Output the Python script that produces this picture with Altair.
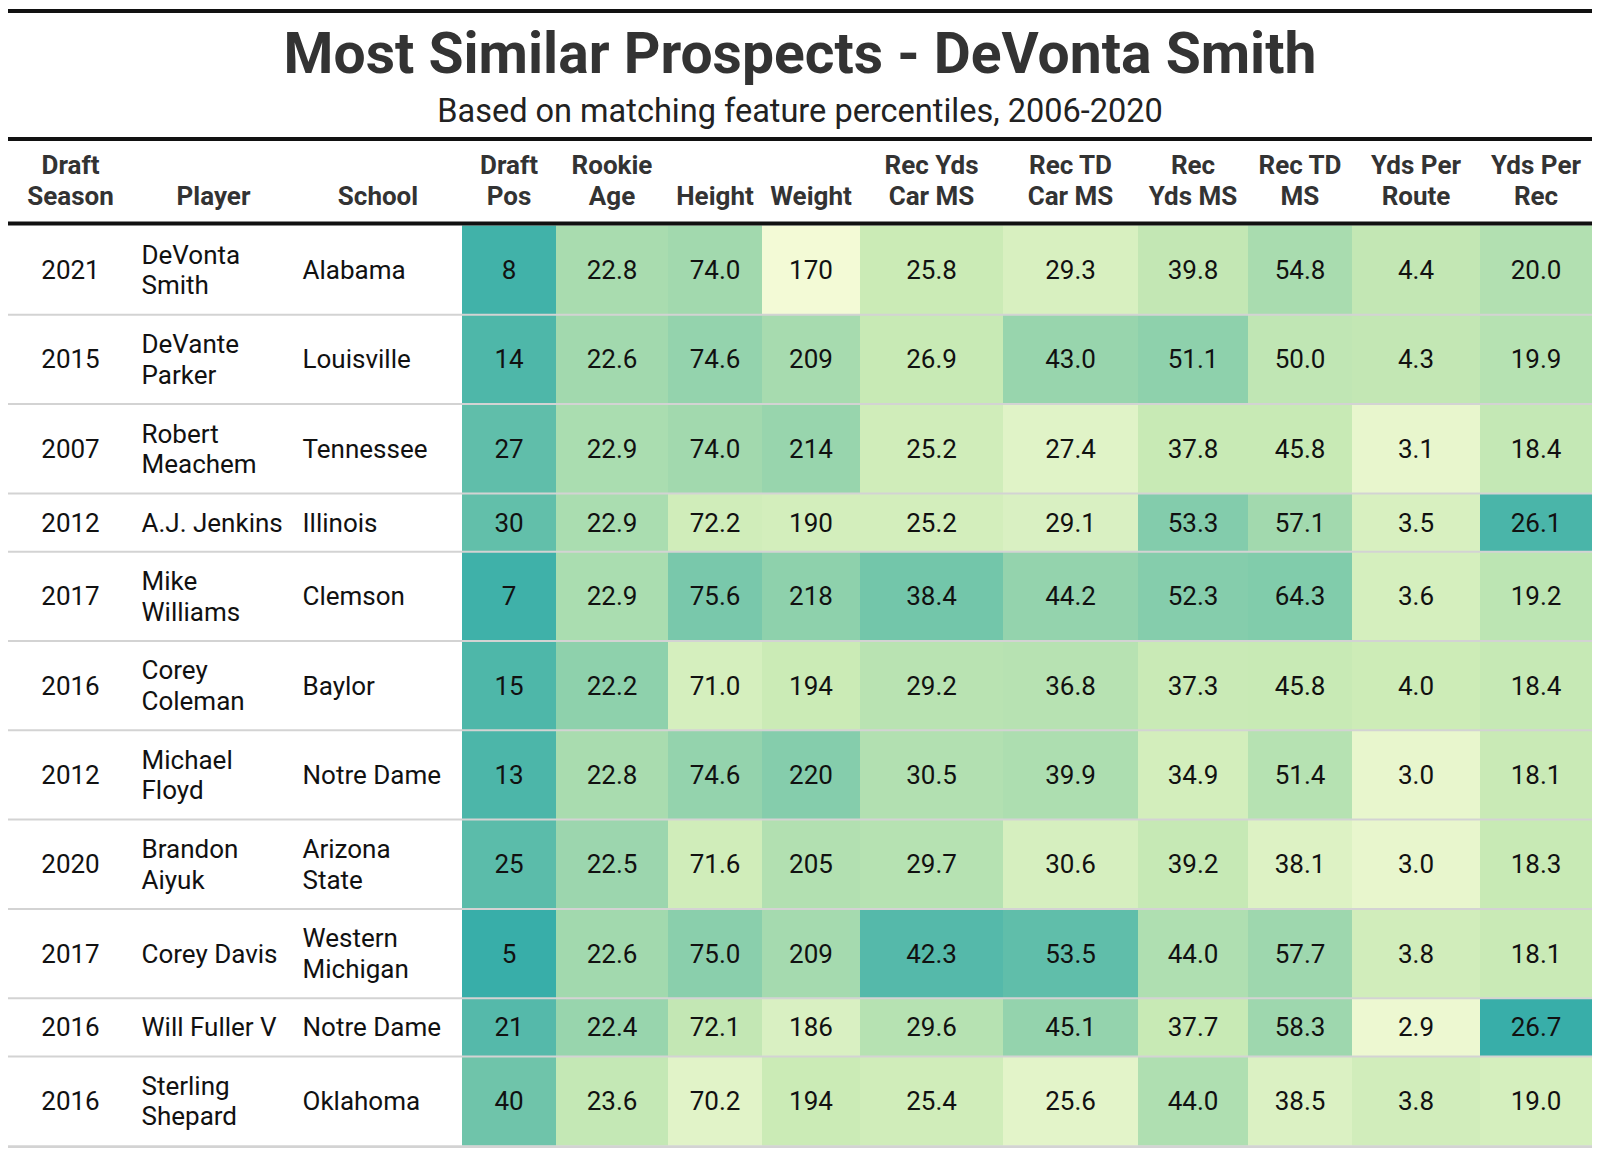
import altair as alt
import pandas as pd

# ---------------- data ----------------
title_text = "Most Similar Prospects - DeVonta Smith"
subtitle_text = "Based on matching feature percentiles, 2006-2020"

headers = ["Draft\nSeason", "Player", "School", "Draft\nPos", "Rookie\nAge", "Height",
           "Weight", "Rec Yds\nCar MS", "Rec TD\nCar MS", "Rec\nYds MS", "Rec TD\nMS",
           "Yds Per\nRoute", "Yds Per\nRec"]

seasons = [2021, 2015, 2007, 2012, 2017, 2016, 2012, 2020, 2017, 2016, 2016]
players = ["DeVonta\nSmith", "DeVante\nParker", "Robert\nMeachem", "A.J. Jenkins",
           "Mike\nWilliams", "Corey\nColeman", "Michael\nFloyd", "Brandon\nAiyuk",
           "Corey Davis", "Will Fuller V", "Sterling\nShepard"]
schools = ["Alabama", "Louisville", "Tennessee", "Illinois", "Clemson", "Baylor",
           "Notre Dame", "Arizona\nState", "Western\nMichigan", "Notre Dame", "Oklahoma"]

draft_pos = [8, 14, 27, 30, 7, 15, 13, 25, 5, 21, 40]
rookie_age = [22.8, 22.6, 22.9, 22.9, 22.9, 22.2, 22.8, 22.5, 22.6, 22.4, 23.6]
height = [74.0, 74.6, 74.0, 72.2, 75.6, 71.0, 74.6, 71.6, 75.0, 72.1, 70.2]
weight = [170, 209, 214, 190, 218, 194, 220, 205, 209, 186, 194]
rec_yds_car_ms = [25.8, 26.9, 25.2, 25.2, 38.4, 29.2, 30.5, 29.7, 42.3, 29.6, 25.4]
rec_td_car_ms = [29.3, 43.0, 27.4, 29.1, 44.2, 36.8, 39.9, 30.6, 53.5, 45.1, 25.6]
rec_yds_ms = [39.8, 51.1, 37.8, 53.3, 52.3, 37.3, 34.9, 39.2, 44.0, 37.7, 44.0]
rec_td_ms = [54.8, 50.0, 45.8, 57.1, 64.3, 45.8, 51.4, 38.1, 57.7, 58.3, 38.5]
yds_per_route = [4.4, 4.3, 3.1, 3.5, 3.6, 4.0, 3.0, 3.0, 3.8, 2.9, 3.8]
yds_per_rec = [20.0, 19.9, 18.4, 26.1, 19.2, 18.4, 18.1, 18.3, 18.1, 26.7, 19.0]

# feature percentiles (cell shading)
draft_pos_pct = [96, 90, 82, 81, 97, 90, 91, 84, 100, 87, 75]
rookie_age_pct = [46, 50, 45, 45, 45, 60, 46, 53, 50, 55, 29]
height_pct = [50, 57, 50, 22, 70, 19, 57, 22, 62, 30, 11]
weight_pct = [0, 47, 55, 20, 60, 25, 64, 40, 48, 16, 25]
rec_yds_car_ms_pct = [25, 27, 22, 20, 73, 36, 40, 38, 87, 38, 22]
rec_td_car_ms_pct = [17, 55, 12, 16, 57, 37, 43, 18, 82, 57, 10]
rec_yds_ms_pct = [30, 60, 27, 65, 64, 26, 20, 28, 42, 27, 42]
rec_td_ms_pct = [46, 32, 27, 50, 66, 27, 38, 14, 52, 52, 15]
yds_per_route_pct = [30, 30, 7, 17, 19, 24, 7, 7, 21, 4, 21]
yds_per_rec_pct = [40, 38, 29, 92, 34, 28, 26, 27, 26, 100, 19]

# ---------------- layout (page pixels) ----------------
PAGE_W, PAGE_H = 1600, 1156
M = 8
col_edges = [8, 133, 294, 462, 556, 668, 762, 860, 1003, 1138, 1248, 1352, 1480, 1592]
body_top = 225.5
row_h2, row_h1 = 89.3, 58.3
font = "Roboto"
fs_body = 26
line_h = 30.5
left_pad = 8.5
text_shift = 1.0

columns = [
    (seasons, None, "{:d}", "center"),
    (players, None, "{}", "left"),
    (schools, None, "{}", "left"),
    (draft_pos, draft_pos_pct, "{:d}", "center"),
    (rookie_age, rookie_age_pct, "{:.1f}", "center"),
    (height, height_pct, "{:.1f}", "center"),
    (weight, weight_pct, "{:d}", "center"),
    (rec_yds_car_ms, rec_yds_car_ms_pct, "{:.1f}", "center"),
    (rec_td_car_ms, rec_td_car_ms_pct, "{:.1f}", "center"),
    (rec_yds_ms, rec_yds_ms_pct, "{:.1f}", "center"),
    (rec_td_ms, rec_td_ms_pct, "{:.1f}", "center"),
    (yds_per_route, yds_per_route_pct, "{:.1f}", "center"),
    (yds_per_rec, yds_per_rec_pct, "{:.1f}", "center"),
]

n_rows = len(seasons)
row_tops, row_bots = [], []
y = body_top
for r in range(n_rows):
    lines = max(players[r].count("\n"), schools[r].count("\n")) + 1
    h = row_h2 if lines > 1 else row_h1
    row_tops.append(y)
    row_bots.append(y + h)
    y += h

cells = []
for c, (vals, pcts, fmt, align) in enumerate(columns):
    x0, x1 = col_edges[c], col_edges[c + 1]
    xt = (x0 + x1) / 2 if align == "center" else x0 + left_pad
    for r in range(n_rows):
        label = fmt.format(vals[r])
        n_lines = label.count("\n") + 1
        yc = (row_tops[r] + row_bots[r]) / 2 - (n_lines - 1) * line_h / 2 + text_shift
        cells.append(dict(
            x0=x0, x1=x1, y0=row_tops[r], y1=row_bots[r],
            xt=xt, yt=yc, label=label,
            pct=(pcts[r] if pcts is not None else None),
            align=align,
        ))
cells = pd.DataFrame(cells)

head_rows = []
for c, h in enumerate(headers):
    parts = h.split("\n")
    ys = [165.5, 196.5] if len(parts) == 2 else [196.5]
    for p, yy in zip(parts, ys):
        head_rows.append(dict(xt=(col_edges[c] + col_edges[c + 1]) / 2, yt=yy, label=p))
head_df = pd.DataFrame(head_rows)

rule_rows = [
    dict(x0=8, x1=1592, y=11, w=4, c="#111111"),
    dict(x0=8, x1=1592, y=139, w=4, c="#111111"),
    dict(x0=8, x1=1592, y=223.5, w=4, c="#111111"),
]
for r in range(n_rows - 1):
    rule_rows.append(dict(x0=8, x1=1592, y=row_bots[r], w=2, c="#d3d3d3"))
rule_rows.append(dict(x0=8, x1=1592, y=row_bots[-1] + 1, w=3, c="#d3d3d3"))
rules_df = pd.DataFrame(rule_rows)

title_df = pd.DataFrame([dict(xt=800, yt=73, label=title_text)])
sub_df = pd.DataFrame([dict(xt=800, yt=122, label=subtitle_text)])

# ---------------- chart ----------------
xs = alt.Scale(domain=[M, PAGE_W - M], nice=False, zero=False)
ys = alt.Scale(domain=[M, PAGE_H - M], nice=False, zero=False, reverse=True)

color_scale = alt.Scale(domain=[0, 25, 50, 75, 100],
                        range=["#f3fad6", "#cbebb6", "#a2d9ae", "#6fc4aa", "#38aea9"],
                        interpolate="rgb")

rects = alt.Chart(cells[cells["pct"].notna()]).mark_rect(strokeWidth=0).encode(
    x=alt.X("x0:Q", scale=xs, axis=None),
    x2="x1:Q",
    y=alt.Y("y0:Q", scale=ys, axis=None),
    y2="y1:Q",
    color=alt.Color("pct:Q", scale=color_scale, legend=None),
)

body_center = alt.Chart(cells[cells["align"] == "center"]).mark_text(
    align="center", baseline="middle", font=font, fontSize=fs_body,
    color="#111111", lineBreak="\n", lineHeight=line_h,
).encode(x=alt.X("xt:Q", scale=xs, axis=None), y=alt.Y("yt:Q", scale=ys, axis=None), text="label:N")

body_left = alt.Chart(cells[cells["align"] == "left"]).mark_text(
    align="left", baseline="middle", font=font, fontSize=fs_body,
    color="#111111", lineBreak="\n", lineHeight=line_h,
).encode(x=alt.X("xt:Q", scale=xs, axis=None), y=alt.Y("yt:Q", scale=ys, axis=None), text="label:N")

head = alt.Chart(head_df).mark_text(
    align="center", baseline="middle", font=font, fontSize=fs_body,
    fontWeight="bold", color="#333333",
).encode(x=alt.X("xt:Q", scale=xs, axis=None), y=alt.Y("yt:Q", scale=ys, axis=None), text="label:N")

rules = alt.Chart(rules_df).mark_rule().encode(
    x=alt.X("x0:Q", scale=xs, axis=None),
    x2="x1:Q",
    y=alt.Y("y:Q", scale=ys, axis=None),
    color=alt.Color("c:N", scale=None),
    strokeWidth=alt.StrokeWidth("w:Q", scale=None),
)

title = alt.Chart(title_df).mark_text(
    align="center", baseline="alphabetic", font=font, fontSize=57,
    fontWeight="bold", color="#333333",
).encode(x=alt.X("xt:Q", scale=xs, axis=None), y=alt.Y("yt:Q", scale=ys, axis=None), text="label:N")

subtitle = alt.Chart(sub_df).mark_text(
    align="center", baseline="alphabetic", font=font, fontSize=32.5,
    color="#222222",
).encode(x=alt.X("xt:Q", scale=xs, axis=None), y=alt.Y("yt:Q", scale=ys, axis=None), text="label:N")

chart = alt.layer(rects, rules, body_center, body_left, head, title, subtitle).properties(
    width=PAGE_W - 2 * M, height=PAGE_H - 2 * M,
    autosize=alt.AutoSizeParams(type="none"),
    padding=0,
).configure_view(stroke=None)

chart.save("out.html", embed_options={"renderer": "svg", "actions": False})
